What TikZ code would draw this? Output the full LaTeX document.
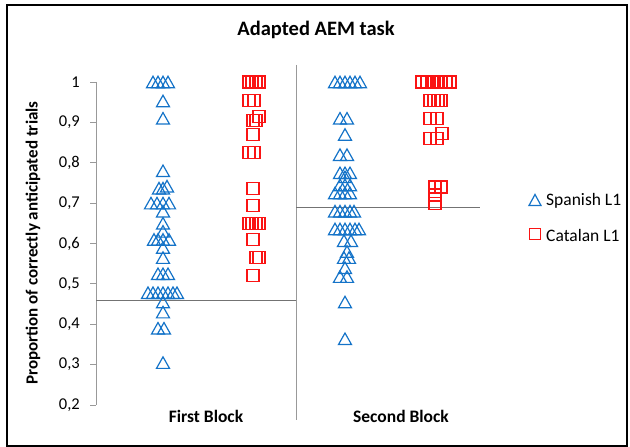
\documentclass[tikz,border=0pt]{standalone}
\usepackage{fontspec}
\setmainfont{Carlito}
\definecolor{spblue}{RGB}{20,115,200}
\definecolor{cared}{RGB}{250,20,20}
\begin{document}
\begin{tikzpicture}[x=1pt,y=1pt,
  spmark/.style={draw=spblue,line width=1.2pt,line join=miter},
  camark/.style={draw=cared,line width=1.2pt},
  axisline/.style={draw=black!40,line width=0.9pt},
  meanline/.style={draw=black!55,line width=0.9pt},
  ticklbl/.style={anchor=east,inner sep=0pt,font=\fontsize{16.5}{19}\selectfont},
  catlbl/.style={inner sep=0pt,font=\fontsize{17.5}{20}\selectfont\bfseries},
  leglbl/.style={anchor=west,inner sep=0pt,font=\fontsize{17.5}{20}\selectfont}]
\useasboundingbox (0,0) rectangle (630,447);
\draw[line width=2pt] (7,1) rectangle (627,442);
% title and labels
\node[catlbl,font=\fontsize{20.5}{23}\selectfont\bfseries] (title) at (316,417) {Adapted AEM task};
\node[catlbl,rotate=90,font=\fontsize{17}{20}\selectfont\bfseries] (ylab) at (33,204) {Proportion of correctly anticipated trials};
\node[catlbl] (first) at (206,31) {First Block};
\node[catlbl] (second) at (401,31) {Second Block};
% divider
\coordinate (dtop) at (296,382);
\coordinate (dbot) at (296,27);
\draw[axisline] (dtop) -- (dbot);
% legend
\draw[spmark] (535,247) ++(-6pt,-5.5pt) -- ++(12pt,0) -- ++(-6pt,11pt) -- cycle;
\node[leglbl] (legs) at (546,246) {Spanish L1};
\draw[camark] (535,213) ++(-5.5pt,-5.5pt) rectangle ++(11pt,11pt);
\node[leglbl] (legc) at (546,212) {Catalan L1};
\begin{scope}[yshift=-38.75pt,y=403.75pt]
  % axis
  \coordinate (atop) at (96,1);
  \coordinate (abot) at (96,0.2);
  \draw[axisline] (atop) -- (abot);
  \foreach \n in {2,...,9}{
    \draw[axisline] (90,0.\n) -- (96,0.\n);
    \node[ticklbl] (t\n) at (80,0.\n) {0,\n};
  }
  \draw[axisline] (90,1) -- (96,1);
  \node[ticklbl] (t10) at (80,1) {1};
  % mean lines
  \draw[meanline] (96,0.46) -- (296,0.46);
  \draw[meanline] (296,0.69) -- (480,0.69);
  % Spanish first block
  \foreach \x/\v in {
    153/1,158/1,163/1,168/1,
    163/0.953,163/0.91,163/0.78,
    159/0.737,163/0.737,167/0.742,
    151/0.70,157/0.70,163/0.70,169/0.70,
    163/0.68,163/0.65,163/0.63,
    154/0.61,158/0.61,163/0.61,169/0.61,
    163/0.59,163/0.565,
    158/0.525,163/0.525,168/0.525,
    148/0.478,153/0.478,158/0.478,163/0.478,168/0.478,173/0.478,177/0.478,
    163/0.455,163/0.43,
    158/0.39,164/0.39,
    163/0.305}{
    \draw[spmark] (\x,\v) ++(-6.5pt,-5.75pt) -- ++(13pt,0) -- ++(-6.5pt,11.5pt) -- cycle;
  }
  % Spanish second block
  \foreach \x/\v in {
    335/1,340/1,345/1,350/1,355/1,360/1,
    340/0.91,347/0.91,
    345/0.87,
    340/0.82,347/0.82,
    340/0.775,345/0.775,350/0.775,345/0.765,
    340/0.745,345/0.745,350/0.745,
    335/0.725,340/0.725,345/0.725,350/0.725,
    335/0.68,340/0.68,345/0.68,350/0.68,354/0.68,
    335/0.636,340/0.636,345/0.636,350/0.636,355/0.636,359/0.636,
    344/0.607,351/0.607,
    347/0.58,
    344/0.565,349/0.565,
    345/0.54,
    340/0.518,347/0.518,
    345/0.455,
    345/0.364}{
    \draw[spmark] (\x,\v) ++(-6.5pt,-5.75pt) -- ++(13pt,0) -- ++(-6.5pt,11.5pt) -- cycle;
  }
  % Catalan first block
  \foreach \x/\v in {
    249/1,252/1,256/1,259/1,
    249/0.955,254/0.955,
    253/0.905,256/0.905,259/0.915,
    253/0.87,
    249/0.826,254/0.826,
    253/0.737,253/0.695,
    249/0.65,252/0.65,256/0.65,259/0.65,
    253/0.61,
    256/0.565,259/0.565,
    253/0.52}{
    \draw[camark] (\x,\v) ++(-6pt,-6pt) rectangle ++(12pt,12pt);
  }
  % Catalan second block
  \foreach \x/\v in {
    422/1,427/1,432/1,437/1,441/1,446/1,450/1,
    430/0.955,434/0.955,438/0.955,441/0.955,
    430/0.91,437/0.91,
    430/0.86,437/0.86,442/0.873,
    435/0.74,441/0.74,
    435/0.72,435/0.70}{
    \draw[camark] (\x,\v) ++(-6pt,-6pt) rectangle ++(12pt,12pt);
  }
\end{scope}
\end{tikzpicture}
\end{document}
